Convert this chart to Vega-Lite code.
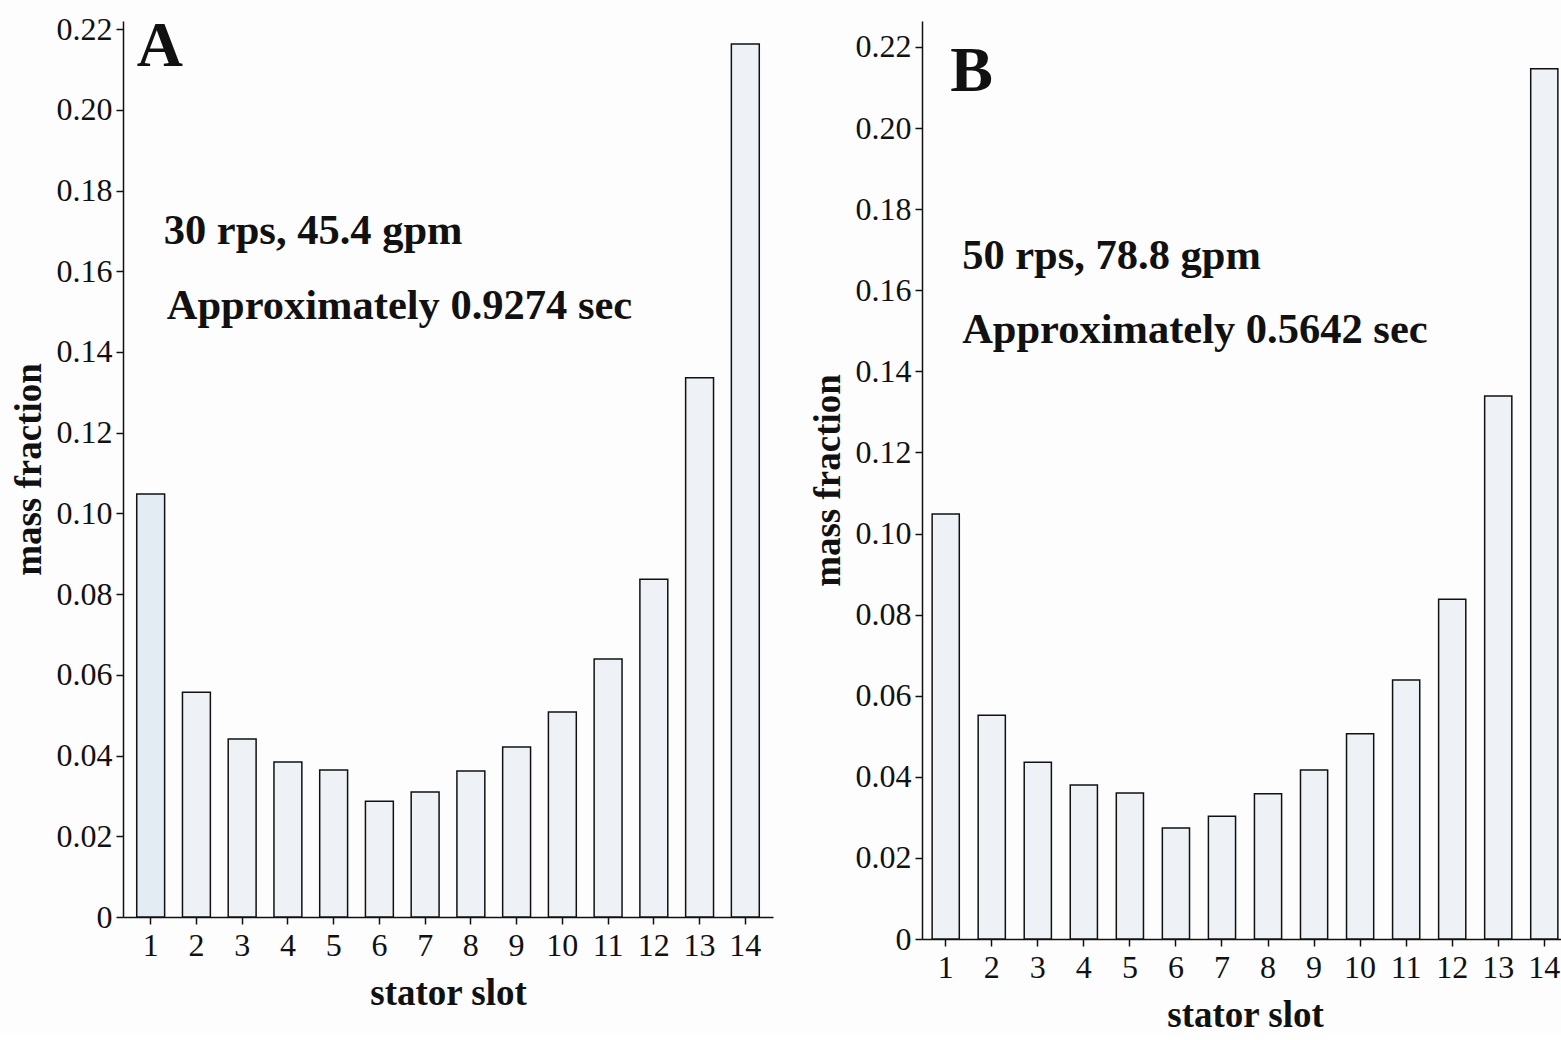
{
  "$schema": "https://vega.github.io/schema/vega-lite/v6.json",
  "background": "#fdfdfd",
  "padding": {"left": 10, "top": 13, "right": 0, "bottom": 0},
  "spacing": 36,
  "config": {
    "font": "Liberation Serif",
    "view": {"stroke": null},
    "axis": {
      "labelFont": "Liberation Serif",
      "titleFont": "Liberation Serif",
      "labelFontSize": 32,
      "titleFontSize": 37,
      "titleFontWeight": "bold",
      "labelColor": "#111",
      "titleColor": "#111",
      "domainColor": "#111",
      "tickColor": "#111",
      "domainWidth": 1.5,
      "tickWidth": 1.5,
      "tickSize": 7,
      "grid": false
    }
  },
  "datasets": {
    "panelA": [
      {"slot": 1, "mass_fraction": 0.1048},
      {"slot": 2, "mass_fraction": 0.0557},
      {"slot": 3, "mass_fraction": 0.0441},
      {"slot": 4, "mass_fraction": 0.0384},
      {"slot": 5, "mass_fraction": 0.0364},
      {"slot": 6, "mass_fraction": 0.0287},
      {"slot": 7, "mass_fraction": 0.031},
      {"slot": 8, "mass_fraction": 0.0362},
      {"slot": 9, "mass_fraction": 0.0421},
      {"slot": 10, "mass_fraction": 0.0508},
      {"slot": 11, "mass_fraction": 0.0639},
      {"slot": 12, "mass_fraction": 0.0837},
      {"slot": 13, "mass_fraction": 0.1336},
      {"slot": 14, "mass_fraction": 0.2163}
    ],
    "panelB": [
      {"slot": 1, "mass_fraction": 0.1048},
      {"slot": 2, "mass_fraction": 0.0552},
      {"slot": 3, "mass_fraction": 0.0436},
      {"slot": 4, "mass_fraction": 0.038},
      {"slot": 5, "mass_fraction": 0.036},
      {"slot": 6, "mass_fraction": 0.0274},
      {"slot": 7, "mass_fraction": 0.0303},
      {"slot": 8, "mass_fraction": 0.0358},
      {"slot": 9, "mass_fraction": 0.0417},
      {"slot": 10, "mass_fraction": 0.0506},
      {"slot": 11, "mass_fraction": 0.0639},
      {"slot": 12, "mass_fraction": 0.0838},
      {"slot": 13, "mass_fraction": 0.1339},
      {"slot": 14, "mass_fraction": 0.2146}
    ]
  },
  "hconcat": [
    {
      "width": 650,
      "height": 896,
      "data": {"name": "panelA"},
      "layer": [
        {
          "mark": {"type": "bar", "stroke": "#111", "strokeWidth": 1.5},
          "encoding": {
            "x": {
              "field": "slot", "type": "ordinal",
              "scale": {"paddingInner": 0.39, "paddingOuter": 0.3},
              "axis": {"title": "stator slot", "labelAngle": 0, "labelPadding": 6, "titlePadding": 14}
            },
            "y": {
              "field": "mass_fraction", "type": "quantitative",
              "scale": {"domain": [0, 0.222], "nice": false},
              "axis": {
                "title": "mass fraction",
                "values": [0, 0.02, 0.04, 0.06, 0.08, 0.1, 0.12, 0.14, 0.16, 0.18, 0.2, 0.22],
                "labelExpr": "datum.value == 0 ? '0' : format(datum.value, '.2f')",
                "labelPadding": 4,
                "titlePadding": 8
              }
            },
            "fill": {
              "condition": {"test": "datum.slot == 1", "value": "#e3ebf3"},
              "value": "#eef2f6"
            }
          }
        },
        {
          "data": {"values": [{}]},
          "mark": {"type": "text", "align": "left", "baseline": "alphabetic", "font": "Liberation Serif", "fontWeight": "bold", "fontSize": 64, "color": "#111", "dx": 0},
          "encoding": {
            "text": {"value": "A"},
            "x": {"datum": 1, "type": "ordinal", "bandPosition": 0},
            "y": {"datum": 0.2109, "type": "quantitative"}
          }
        },
        {
          "data": {"values": [{}]},
          "mark": {"type": "text", "align": "left", "baseline": "alphabetic", "font": "Liberation Serif", "fontWeight": "bold", "fontSize": 42.5, "color": "#111", "dx": 27},
          "encoding": {
            "text": {"value": "30 rps, 45.4 gpm"},
            "x": {"datum": 1, "type": "ordinal", "bandPosition": 0},
            "y": {"datum": 0.1667, "type": "quantitative"}
          }
        },
        {
          "data": {"values": [{}]},
          "mark": {"type": "text", "align": "left", "baseline": "alphabetic", "font": "Liberation Serif", "fontWeight": "bold", "fontSize": 42.5, "color": "#111", "dx": 30},
          "encoding": {
            "text": {"value": "Approximately 0.9274 sec"},
            "x": {"datum": 1, "type": "ordinal", "bandPosition": 0},
            "y": {"datum": 0.1482, "type": "quantitative"}
          }
        }
      ]
    },
    {
      "width": 646,
      "height": 918,
      "data": {"name": "panelB"},
      "layer": [
        {
          "mark": {"type": "bar", "stroke": "#111", "strokeWidth": 1.5, "fill": "#eef2f6"},
          "encoding": {
            "x": {
              "field": "slot", "type": "ordinal",
              "scale": {"paddingInner": 0.41, "paddingOuter": 0.22},
              "axis": {"title": "stator slot", "labelAngle": 0, "labelPadding": 6, "titlePadding": 14}
            },
            "y": {
              "field": "mass_fraction", "type": "quantitative",
              "scale": {"domain": [0, 0.2264], "nice": false},
              "axis": {
                "title": "mass fraction",
                "values": [0, 0.02, 0.04, 0.06, 0.08, 0.1, 0.12, 0.14, 0.16, 0.18, 0.2, 0.22],
                "labelExpr": "datum.value == 0 ? '0' : format(datum.value, '.2f')",
                "labelPadding": 4,
                "titlePadding": 8
              }
            }
          }
        },
        {
          "data": {"values": [{}]},
          "mark": {"type": "text", "align": "left", "baseline": "alphabetic", "font": "Liberation Serif", "fontWeight": "bold", "fontSize": 64, "color": "#111", "dx": 18},
          "encoding": {
            "text": {"value": "B"},
            "x": {"datum": 1, "type": "ordinal", "bandPosition": 0},
            "y": {"datum": 0.2091, "type": "quantitative"}
          }
        },
        {
          "data": {"values": [{}]},
          "mark": {"type": "text", "align": "left", "baseline": "alphabetic", "font": "Liberation Serif", "fontWeight": "bold", "fontSize": 42.5, "color": "#111", "dx": 30},
          "encoding": {
            "text": {"value": "50 rps, 78.8 gpm"},
            "x": {"datum": 1, "type": "ordinal", "bandPosition": 0},
            "y": {"datum": 0.1652, "type": "quantitative"}
          }
        },
        {
          "data": {"values": [{}]},
          "mark": {"type": "text", "align": "left", "baseline": "alphabetic", "font": "Liberation Serif", "fontWeight": "bold", "fontSize": 42.5, "color": "#111", "dx": 30},
          "encoding": {
            "text": {"value": "Approximately 0.5642 sec"},
            "x": {"datum": 1, "type": "ordinal", "bandPosition": 0},
            "y": {"datum": 0.147, "type": "quantitative"}
          }
        }
      ]
    }
  ]
}
